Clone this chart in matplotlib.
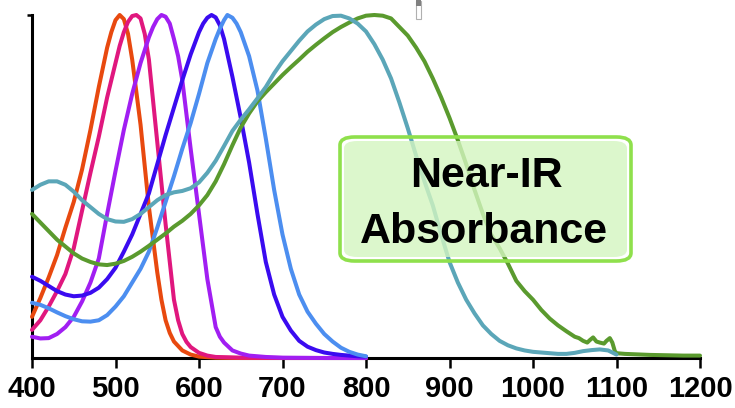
import matplotlib
matplotlib.use("Agg")
import matplotlib.pyplot as plt
from matplotlib.patches import FancyBboxPatch, Rectangle

# ---------------- data (normalized absorbance vs wavelength, nm) ----------------
wl_orange = [400, 410, 420, 430, 440, 450, 460, 470, 480, 490, 495, 500, 505, 510, 515, 520, 530, 540, 550, 555, 560, 565, 570, 580, 590, 600, 620, 650, 700, 800]
ab_orange = [0.12, 0.175, 0.235, 0.30, 0.38, 0.455, 0.55, 0.665, 0.79, 0.905, 0.95, 0.985, 1.0, 0.988, 0.945, 0.87, 0.68, 0.44, 0.25, 0.17, 0.11, 0.073, 0.048, 0.022, 0.01, 0.004, 0.001, 0.0, 0.0, 0.0]

wl_pink = [400, 410, 420, 430, 440, 450, 460, 470, 480, 490, 500, 505, 510, 515, 520, 525, 530, 535, 540, 550, 560, 570, 575, 580, 585, 590, 600, 610, 620, 650, 700, 800]
ab_pink = [0.082, 0.11, 0.15, 0.195, 0.245, 0.32, 0.43, 0.54, 0.645, 0.76, 0.86, 0.91, 0.95, 0.98, 0.997, 1.0, 0.99, 0.945, 0.87, 0.63, 0.39, 0.17, 0.11, 0.07, 0.047, 0.032, 0.015, 0.007, 0.003, 0.001, 0.0, 0.0]

wl_purple = [400, 410, 420, 430, 440, 450, 460, 470, 480, 490, 500, 510, 520, 530, 540, 545, 550, 555, 560, 565, 570, 575, 580, 590, 600, 610, 620, 625, 630, 640, 650, 660, 680, 700, 750, 800]
ab_purple = [0.062, 0.057, 0.058, 0.07, 0.09, 0.12, 0.165, 0.22, 0.29, 0.42, 0.545, 0.665, 0.77, 0.86, 0.935, 0.965, 0.988, 1.0, 0.995, 0.975, 0.93, 0.88, 0.81, 0.61, 0.42, 0.23, 0.09, 0.062, 0.045, 0.022, 0.013, 0.007, 0.003, 0.001, 0.0, 0.0]

wl_darkblue = [400, 410, 420, 430, 440, 450, 460, 470, 480, 490, 500, 510, 520, 530, 540, 550, 560, 570, 580, 590, 600, 605, 610, 615, 620, 625, 630, 640, 650, 660, 670, 680, 690, 700, 710, 720, 730, 740, 750, 760, 770, 780, 790, 800]
ab_darkblue = [0.237, 0.225, 0.21, 0.195, 0.185, 0.18, 0.182, 0.19, 0.205, 0.23, 0.263, 0.31, 0.36, 0.42, 0.48, 0.565, 0.65, 0.73, 0.81, 0.885, 0.95, 0.975, 0.992, 1.0, 0.993, 0.97, 0.93, 0.82, 0.70, 0.57, 0.42, 0.28, 0.185, 0.12, 0.08, 0.05, 0.033, 0.023, 0.016, 0.012, 0.009, 0.007, 0.005, 0.004]

wl_lightblue = [400, 410, 420, 430, 440, 450, 460, 470, 480, 490, 500, 510, 520, 530, 540, 550, 560, 570, 580, 590, 600, 610, 620, 625, 630, 634, 640, 645, 650, 660, 670, 680, 690, 700, 710, 720, 730, 740, 750, 760, 770, 780, 790, 800]
ab_lightblue = [0.161, 0.155, 0.145, 0.133, 0.122, 0.113, 0.107, 0.106, 0.11, 0.125, 0.15, 0.18, 0.22, 0.26, 0.31, 0.38, 0.455, 0.53, 0.61, 0.685, 0.77, 0.86, 0.93, 0.96, 0.985, 1.0, 0.992, 0.975, 0.95, 0.88, 0.78, 0.64, 0.49, 0.36, 0.26, 0.185, 0.135, 0.10, 0.07, 0.048, 0.03, 0.018, 0.01, 0.005]

wl_teal = [400, 410, 420, 430, 440, 450, 460, 470, 480, 490, 500, 510, 520, 530, 540, 550, 560, 570, 580, 590, 600, 610, 620, 630, 640, 650, 660, 670, 680, 690, 700, 710, 720, 730, 740, 750, 760, 770, 780, 790, 800, 810, 820, 830, 840, 850, 860, 870, 880, 890, 900, 910, 920, 930, 940, 950, 960, 970, 980, 990, 1000, 1010, 1020, 1030, 1040, 1050, 1060, 1070, 1080, 1090, 1100]
ab_teal = [0.49, 0.505, 0.515, 0.515, 0.505, 0.485, 0.46, 0.44, 0.42, 0.405, 0.398, 0.397, 0.405, 0.42, 0.44, 0.46, 0.475, 0.483, 0.487, 0.495, 0.512, 0.54, 0.575, 0.618, 0.662, 0.695, 0.725, 0.757, 0.79, 0.83, 0.865, 0.895, 0.925, 0.952, 0.972, 0.988, 0.997, 0.998, 0.99, 0.975, 0.952, 0.915, 0.87, 0.815, 0.745, 0.67, 0.59, 0.515, 0.445, 0.36, 0.28, 0.22, 0.17, 0.13, 0.095, 0.07, 0.05, 0.037, 0.028, 0.022, 0.018, 0.016, 0.014, 0.012, 0.012, 0.015, 0.02, 0.023, 0.025, 0.022, 0.01]

wl_green = [400, 410, 420, 430, 440, 450, 460, 470, 480, 490, 500, 510, 520, 530, 540, 550, 560, 570, 580, 590, 600, 610, 620, 630, 640, 650, 660, 670, 680, 690, 700, 710, 720, 730, 740, 750, 760, 770, 780, 790, 800, 810, 820, 830, 840, 850, 860, 870, 880, 890, 900, 910, 920, 930, 940, 950, 960, 970, 980, 990, 1000, 1010, 1020, 1030, 1040, 1045, 1050, 1055, 1060, 1065, 1068, 1072, 1076, 1080, 1085, 1088, 1092, 1095, 1098, 1100, 1110, 1120, 1140, 1160, 1180, 1200]
ab_green = [0.42, 0.395, 0.37, 0.345, 0.325, 0.305, 0.29, 0.28, 0.273, 0.271, 0.275, 0.283, 0.295, 0.31, 0.327, 0.345, 0.363, 0.383, 0.40, 0.42, 0.445, 0.475, 0.515, 0.565, 0.62, 0.672, 0.713, 0.748, 0.775, 0.80, 0.825, 0.848, 0.87, 0.893, 0.913, 0.932, 0.95, 0.965, 0.978, 0.99, 0.998, 1.0, 0.998, 0.99, 0.965, 0.94, 0.905, 0.865, 0.815, 0.76, 0.70, 0.635, 0.565, 0.49, 0.42, 0.36, 0.32, 0.275, 0.225, 0.195, 0.17, 0.14, 0.115, 0.095, 0.078, 0.07, 0.062, 0.058, 0.05, 0.045, 0.052, 0.06, 0.048, 0.045, 0.042, 0.05, 0.058, 0.045, 0.02, 0.014, 0.012, 0.011, 0.009, 0.008, 0.007, 0.007]

x_ticks = [400, 500, 600, 700, 800, 900, 1000, 1100, 1200]
x_tick_labels = ["400", "500", "600", "700", "800", "900", "1000", "1100", "1200"]
label_lines = ["Near-IR", "Absorbance"]

# ---------------- figure ----------------
W, H = 735, 408
fig = plt.figure(figsize=(W / 100, H / 100), dpi=100)
ax = fig.add_axes([32 / W, 1 - 358 / H, (700 - 32) / W, (358 - 15) / H])

series = [
    (wl_orange, ab_orange, "#E8490F"),
    (wl_pink, ab_pink, "#E0177E"),
    (wl_purple, ab_purple, "#A11EF2"),
    (wl_darkblue, ab_darkblue, "#3A0BF0"),
    (wl_lightblue, ab_lightblue, "#4C8EF0"),
    (wl_green, ab_green, "#5A9A2E"),
    (wl_teal, ab_teal, "#5BA6B8"),
]
for x, y, c in series:
    ax.plot(x, y, color=c, lw=2.9, solid_capstyle="round", solid_joinstyle="round",
            clip_on=False, zorder=3)

ax.set_xlim(400, 1200)
ax.set_ylim(0, 1)
for s in ["top", "right"]:
    ax.spines[s].set_visible(False)
for s in ["left", "bottom"]:
    ax.spines[s].set_linewidth(2.2)
    ax.spines[s].set_color("black")

ax.set_xticks(x_ticks)
ax.set_xticklabels(x_tick_labels, fontfamily="Liberation Sans", fontweight="bold", fontsize=21)
ax.tick_params(axis="x", length=7, width=1.8, pad=5, direction="out")
ax.set_yticks([1])
ax.set_yticklabels([])
ax.tick_params(axis="y", length=3.5, width=1.8, direction="out")

# label box
box = FancyBboxPatch((344 / W, 1 - 257 / H), (627 - 344) / W, (257 - 141) / H,
                     boxstyle="round,pad=0,rounding_size=0.018",
                     transform=fig.transFigure, facecolor="#D4F6C0", alpha=0.8,
                     edgecolor="none", zorder=5)
fig.add_artist(box)
box_edge = FancyBboxPatch((340 / W, 1 - 261 / H), (631 - 340) / W, (261 - 137) / H,
                          boxstyle="round,pad=0,rounding_size=0.02",
                          transform=fig.transFigure, facecolor="none",
                          edgecolor="#8FE04C", lw=2.6, zorder=6)
fig.add_artist(box_edge)
fig.text(486 / W, 1 - 176 / H, label_lines[0], ha="center", va="center",
         fontfamily="Liberation Sans", fontweight="bold", fontsize=31, color="black", zorder=7)
fig.text(484 / W, 1 - 232 / H, label_lines[1], ha="center", va="center",
         fontfamily="Liberation Sans", fontweight="bold", fontsize=31, color="black", zorder=7)

# small vial icon at top
fig.add_artist(Rectangle((416 / W, 1 - 19 / H), 5 / W, 18 / H, transform=fig.transFigure,
                         facecolor="white", edgecolor="#B0B0B0", lw=0.8, zorder=8))
fig.add_artist(Rectangle((416 / W, 1 - 6 / H), 5 / W, 6 / H, transform=fig.transFigure,
                         facecolor="#808080", edgecolor="none", zorder=9))

fig.savefig("out.png", dpi=100)
